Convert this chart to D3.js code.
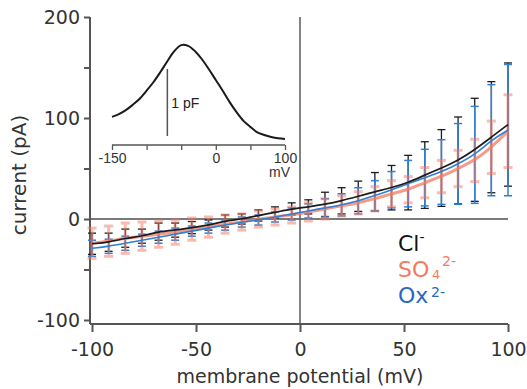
<!DOCTYPE html>
<html>
<head>
<meta charset="utf-8">
<script src="https://cdn.jsdelivr.net/npm/d3@7"></script>
<style>
  body { margin: 0; background: #fff; }
  text { font-family: "DejaVu Sans", Verdana, sans-serif; }
  .inset text { font-family: "Liberation Sans", Arial, Helvetica, sans-serif; }
</style>
</head>
<body>
<script>
// membrane potentials of the I-V points (mV)
var voltages = [-100, -92, -84, -76, -68, -60, -52, -44, -36, -28, -20, -12, -4,
                4, 12, 20, 28, 36, 44, 52, 60, 68, 76, 84, 92, 100];

// mean currents (pA) and error bar half widths
var clMean = [-24.5, -23, -19, -17, -12.5, -11, -8.5, -6, -2, 0, 3.5, 6.5, 10,
              12, 14.5, 18, 22.5, 27, 31, 36, 43.5, 50.5, 58, 68.5, 81, 93.5];
var clErr  = [10.5, 9, 9, 7, 8.5, 7, 6, 5, 6, 5, 5.5, 5.5, 6,
              7, 12, 13, 15, 19, 22, 27, 33, 38, 43, 51, 55, 61];

var oxMean = [-29, -27, -24, -21, -18, -15, -12, -9, -6, -3, -1, 2, 5,
              8, 11, 14, 18, 23, 29, 35, 41, 46.5, 54.5, 63.5, 78, 88];
var oxErr  = [8, 7, 7, 6, 6, 6, 5, 5, 5, 5, 5, 5, 6,
              7, 9, 11, 13, 15, 18, 23, 28, 32, 40, 48, 55, 65];

var so4Mean = [-24, -22, -19, -17, -15, -13, -10, -8, -5, -3, 0, 2, 4,
               7, 10, 13, 16, 20, 25, 29, 36, 42, 50, 58, 71, 87];
var so4Err  = [15, 15, 15, 14, 13, 12, 11, 10, 9, 8, 8, 8, 8,
               9, 10, 10, 11, 12, 13, 13, 15, 16, 18, 21, 26, 36];

// inset: nonlinear capacitance trace (pF)
var capVoltages = [-150, -140, -130, -120, -110, -100, -90, -80, -70, -60, -50, -40, -30,
                   -20, -10, 0, 10, 20, 30, 40, 50, 60, 70, 80, 90, 100];
var capValues = [0.42, 0.46, 0.52, 0.60, 0.69, 0.81, 0.94, 1.09, 1.25, 1.40, 1.49, 1.48, 1.40,
                 1.28, 1.13, 0.97, 0.81, 0.64, 0.49, 0.36, 0.27, 0.19, 0.15, 0.12, 0.10, 0.09];

var yTicks = [-100, -50, 0, 50, 100, 150, 200];
var xTicks = [-100, -50, 0, 50, 100];
var insetTicks = [-150, -100, -50, 0, 50, 100];

var width = 527, height = 389;
var axisColor = "#555";
var black = "#1c1c1c", salmon = "#f47a62", blue = "#2f7fd3";

var svg = d3.select("body").append("svg")
    .attr("width", width)
    .attr("height", height);

var x = d3.scaleLinear().domain([-100, 100]).range([92, 508]);
var y = d3.scaleLinear().domain([-100, 200]).range([320, 17]);

// zero lines
svg.append("line")
   .attr("x1", 90).attr("x2", x(100))
   .attr("y1", y(0)).attr("y2", y(0))
   .attr("stroke", "#7a7a7a").attr("stroke-width", 2);
svg.append("line")
   .attr("x1", x(0)).attr("x2", x(0))
   .attr("y1", y(200)).attr("y2", 324)
   .attr("stroke", "#5a5a5a").attr("stroke-width", 1.5);

// axes
var yAxis = svg.append("g")
    .attr("transform", "translate(90,0)")
    .call(d3.axisLeft(y).tickValues(yTicks).tickSize(6).tickPadding(4)
          .tickFormat(function(d) { return d % 100 === 0 ? String(d) : ""; }));

var xAxis = svg.append("g")
    .attr("transform", "translate(0,324)")
    .call(d3.axisBottom(x).tickValues(xTicks).tickSize(8).tickPadding(11)
          .tickFormat(function(d) { return String(d); }));

[yAxis, xAxis].forEach(function(ax) {
  ax.select(".domain").attr("stroke", axisColor).attr("stroke-width", 2);
  ax.selectAll(".tick line").attr("stroke", axisColor).attr("stroke-width", 2);
  ax.selectAll(".tick text").attr("fill", "#333")
    .style("font-family", "DejaVu Sans").style("font-size", "19px");
});
yAxis.select(".domain").attr("d", "M0,17V324");
xAxis.select(".domain").attr("d", "M90,0H" + x(100));

// axis labels
svg.append("text")
   .attr("transform", "translate(26,175) rotate(-90)")
   .attr("text-anchor", "middle")
   .attr("fill", "#333")
   .style("font-size", "20px")
   .text("current (pA)");

svg.append("text")
   .attr("x", 300).attr("y", 383)
   .attr("text-anchor", "middle")
   .attr("fill", "#333")
   .style("font-size", "19px")
   .text("membrane potential (mV)");

// error bars
function drawBars(means, errs, color, sw, cap, opacity) {
  var g = svg.append("g").attr("stroke", color).attr("stroke-width", sw)
             .attr("opacity", opacity);
  voltages.forEach(function(v, i) {
    var top = y(means[i] + errs[i]), bot = y(means[i] - errs[i]);
    g.append("line").attr("x1", x(v)).attr("x2", x(v)).attr("y1", top).attr("y2", bot);
    g.append("line").attr("x1", x(v) - cap).attr("x2", x(v) + cap).attr("y1", top).attr("y2", top);
    g.append("line").attr("x1", x(v) - cap).attr("x2", x(v) + cap).attr("y1", bot).attr("y2", bot);
  });
}

drawBars(clMean, clErr, black, 1.3, 4, 1);
drawBars(oxMean, oxErr, blue, 1.5, 4, 1);
drawBars(so4Mean, so4Err, salmon, 3, 4.5, 0.5);

// mean curves
function drawLine(means, color, sw, opacity) {
  var line = d3.line()
      .x(function(d, i) { return x(voltages[i]); })
      .y(function(d) { return y(d); })
      .curve(d3.curveBasis);
  svg.append("path")
     .datum(means)
     .attr("d", line)
     .attr("fill", "none")
     .attr("stroke", color)
     .attr("stroke-width", sw)
     .attr("opacity", opacity);
}

drawLine(so4Mean, salmon, 3, 0.75);
drawLine(oxMean, blue, 1.6, 1);
drawLine(clMean, black, 1.7, 1);

// legend
var legend = svg.append("g").style("font-size", "22px");
var l1 = legend.append("text").attr("x", 398).attr("y", 251).attr("fill", "#111");
l1.append("tspan").text("Cl");
l1.append("tspan").attr("dy", -9).style("font-size", "14px").text("-");

// SO4 2-: subscript and superscript as separate texts so they sit side by side
legend.append("text").attr("x", 398).attr("y", 277).attr("fill", salmon).text("SO");
legend.append("text").attr("x", 432).attr("y", 279).attr("fill", salmon)
      .style("font-size", "13px").text("4");
legend.append("text").attr("x", 442).attr("y", 266).attr("fill", salmon)
      .style("font-size", "14px").text("2-");

legend.append("text").attr("x", 398).attr("y", 303).attr("fill", "#2a66c0").text("Ox");
legend.append("text").attr("x", 431).attr("y", 297).attr("fill", "#2a66c0")
      .style("font-size", "14px").text("2-");

// inset
var inset = svg.append("g").attr("class", "inset");
var ix = d3.scaleLinear().domain([-150, 100]).range([112, 285]);
var iy = d3.scaleLinear().domain([0, 1]).range([145, 78]);

var insetAxis = inset.append("g")
    .attr("transform", "translate(0,145)")
    .call(d3.axisBottom(ix).tickValues(insetTicks).tickSize(5).tickPadding(3)
          .tickFormat(function(d) { return (d === -150 || d === 0 || d === 100) ? String(d) : ""; }));
insetAxis.select(".domain").attr("d", "M" + ix(-150) + ",0H" + ix(100))
         .attr("stroke", axisColor).attr("stroke-width", 1.3);
insetAxis.selectAll(".tick line").attr("stroke", axisColor).attr("stroke-width", 1.3);
insetAxis.selectAll(".tick text").attr("fill", "#333")
         .style("font-family", "Liberation Sans, Arial, sans-serif").style("font-size", "14px");

inset.append("text")
   .attr("x", 290).attr("y", 177)
   .attr("text-anchor", "end")
   .attr("fill", "#333")
   .style("font-size", "14px")
   .text("mV");

inset.append("path")
   .datum(capValues)
   .attr("d", d3.line()
        .x(function(d, i) { return ix(capVoltages[i]); })
        .y(function(d) { return iy(d); })
        .curve(d3.curveCatmullRom))
   .attr("fill", "none")
   .attr("stroke", "#1a1a1a")
   .attr("stroke-width", 2);

// 1 pF scale bar
inset.append("line")
   .attr("x1", ix(-70)).attr("x2", ix(-70))
   .attr("y1", iy(0.134)).attr("y2", iy(1.134))
   .attr("stroke", "#555").attr("stroke-width", 1.5);
inset.append("text")
   .attr("x", ix(-70) + 4).attr("y", 108)
   .attr("fill", "#222")
   .style("font-size", "14px")
   .text("1 pF");
</script>
</body>
</html>
